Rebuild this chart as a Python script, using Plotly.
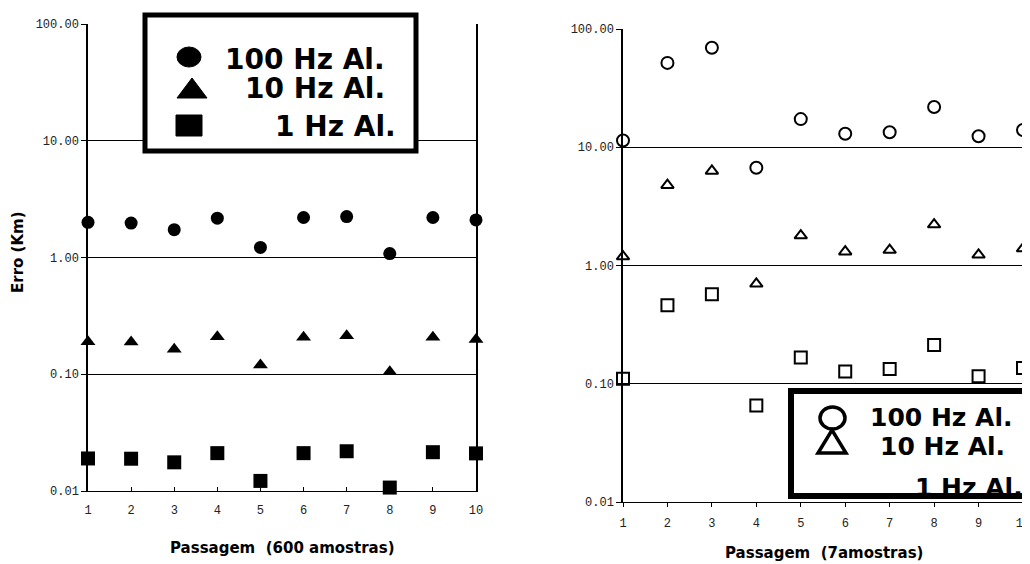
import plotly.graph_objects as go

# ---------------- data ----------------
passagem = [1, 2, 3, 4, 5, 6, 7, 8, 9, 10]

# left panel (600 amostras), filled markers
esq_100hz = [2.0, 1.97, 1.73, 2.17, 1.22, 2.2, 2.24, 1.08, 2.2, 2.1]
esq_10hz = [0.19, 0.189, 0.164, 0.209, 0.12, 0.207, 0.214, 0.105, 0.207, 0.198]
esq_1hz = [0.019, 0.0189, 0.0176, 0.0211, 0.0122, 0.0211, 0.0219, 0.0107, 0.0215, 0.021]

# right panel (7 amostras), open markers
dir_100hz = [11.4, 51.7, 69.4, 6.7, 17.3, 13.0, 13.4, 21.9, 12.4, 14.0]
dir_10hz = [1.19, 4.78, 6.3, 0.70, 1.79, 1.31, 1.35, 2.22, 1.23, 1.39]
dir_1hz = [0.110, 0.462, 0.572, 0.0655, 0.167, 0.127, 0.133, 0.213, 0.116, 0.136]

y_tickvals = [0.01, 0.1, 1, 10, 100]
y_ticktext = ["0.01", "0.10", "1.00", "10.00", "100.00"]
x_ticktext = [str(v) for v in passagem]

serie_nomes = ["100 Hz Al.", "10 Hz Al.", "1 Hz Al."]
y_titulo = "Erro (Km)"
x_titulo_esq = "Passagem\u00a0 (600 amostras)"
x_titulo_dir = "Passagem\u00a0 (7amostras)"

# ---------------- figure ----------------
# the page body has an 8px margin, so the figure is 8px smaller and
# all page-pixel positions are shifted by that offset
OFF = 8
W, H = 1030 - OFF, 564 - OFF


def px(x):
    return (x - OFF) / W


def py(y):
    return 1 - (y - OFF) / H


fig = go.Figure()

tick_font = dict(family="Liberation Mono", size=12, color="#222")

# left traces
for vals, sym, size in [(esq_100hz, "circle", 13), (esq_10hz, "triangle-up", 13), (esq_1hz, "square", 14)]:
    fig.add_trace(go.Scatter(x=passagem, y=vals, mode="markers", xaxis="x", yaxis="y",
                             cliponaxis=False, showlegend=False,
                             marker=dict(symbol=sym, size=size, color="black", line=dict(width=0))))
# right traces
for vals, sym, size in [(dir_100hz, "circle-open", 12), (dir_10hz, "triangle-up-open", 11), (dir_1hz, "square-open", 12)]:
    fig.add_trace(go.Scatter(x=passagem, y=vals, mode="markers", xaxis="x2", yaxis="y2",
                             cliponaxis=False, showlegend=False,
                             marker=dict(symbol=sym, size=size, color="black", line=dict(width=2, color="black"))))

common_x = dict(range=[1, 10], tickmode="array", tickvals=passagem, ticktext=x_ticktext,
                showgrid=False, zeroline=False, showline=True, linecolor="black", linewidth=1,
                ticklen=4, tickcolor="black", tickfont=tick_font, automargin=False,
                ticklabeloverflow="allow")
common_y = dict(type="log", range=[-2, 2], tickmode="array", tickvals=y_tickvals, ticktext=y_ticktext,
                showgrid=True, gridcolor="black", gridwidth=1, zeroline=False,
                showline=True, linecolor="black", linewidth=1.5, mirror=True,
                ticks="outside", ticklen=5, tickcolor="black", tickfont=tick_font, automargin=False)

fig.update_layout(
    width=W, height=H, autosize=False,
    margin=dict(l=0, r=0, t=0, b=0, pad=0),
    paper_bgcolor="white", plot_bgcolor="white",
    xaxis=dict(domain=[px(88), px(476)], anchor="y", ticks="inside", ticklabelstandoff=8, **common_x),
    yaxis=dict(domain=[py(491), py(24)], anchor="x", **common_y),
    xaxis2=dict(domain=[px(623), px(1023)], anchor="y2", ticks="outside", ticklabelstandoff=6, **common_x),
    yaxis2=dict(domain=[py(502), py(29)], anchor="x2", **common_y),
)

shapes = []
annotations = []

# ---- left legend box ----
shapes.append(dict(type="rect", xref="paper", yref="paper", x0=px(145), x1=px(416), y0=py(151), y1=py(15),
                   line=dict(color="black", width=5), fillcolor="white", layer="above"))
shapes.append(dict(type="circle", xref="paper", yref="paper", x0=px(177), x1=px(201), y0=py(67), y1=py(47),
                   line=dict(color="black", width=1), fillcolor="black", layer="above"))
shapes.append(dict(type="path", xref="paper", yref="paper",
                   path=f"M{px(177)},{py(98)} L{px(207)},{py(98)} L{px(192)},{py(78)} Z",
                   line=dict(color="black", width=1), fillcolor="black", layer="above"))
shapes.append(dict(type="rect", xref="paper", yref="paper", x0=px(176), x1=px(202), y0=py(136), y1=py(115),
                   line=dict(color="black", width=1), fillcolor="black", layer="above"))
leg_font_l = dict(family="DejaVu Sans", size=28, color="black")
for nome, xl, yc in zip(serie_nomes, [223, 243, 273], [60, 89, 126]):
    annotations.append(dict(text=f"<b>{nome}</b>", xref="paper", yref="paper", x=px(xl), y=py(yc),
                            xanchor="left", yanchor="middle", showarrow=False, font=leg_font_l))

# ---- right legend box (cut by the page edge) ----
shapes.append(dict(type="rect", xref="paper", yref="paper", x0=px(791), x1=px(1050), y0=py(496), y1=py(391),
                   line=dict(color="black", width=6), fillcolor="white", layer="above"))
shapes.append(dict(type="circle", xref="paper", yref="paper", x0=px(820), x1=px(845), y0=py(429), y1=py(407),
                   line=dict(color="black", width=3.5), fillcolor="rgba(0,0,0,0)", layer="above"))
shapes.append(dict(type="path", xref="paper", yref="paper",
                   path=f"M{px(818)},{py(453)} L{px(846)},{py(453)} L{px(832)},{py(430)} Z",
                   line=dict(color="black", width=3.5), fillcolor="rgba(0,0,0,0)", layer="above"))
leg_font_r = dict(family="DejaVu Sans", size=25, color="black")
for nome, xl, yc in zip(serie_nomes, [868, 878, 913], [417, 446, 487]):
    annotations.append(dict(text=f"<b>{nome}</b>", xref="paper", yref="paper", x=px(xl), y=py(yc),
                            xanchor="left", yanchor="middle", showarrow=False, font=leg_font_r))

# ---- axis titles ----
title_font = dict(family="DejaVu Sans", size=15, color="black")
annotations.append(dict(text=f"<b>{y_titulo}</b>", xref="paper", yref="paper", x=px(18), y=py(252),
                        textangle=-90, showarrow=False, xanchor="center", yanchor="middle", font=title_font))
annotations.append(dict(text=f"<b>{x_titulo_esq}</b>", xref="paper", yref="paper", x=px(282), y=py(548),
                        showarrow=False, xanchor="center", yanchor="middle", font=title_font))
annotations.append(dict(text=f"<b>{x_titulo_dir}</b>", xref="paper", yref="paper", x=px(824), y=py(553),
                        showarrow=False, xanchor="center", yanchor="middle", font=title_font))

fig.update_layout(shapes=shapes, annotations=annotations)

fig.write_html("out.html")
